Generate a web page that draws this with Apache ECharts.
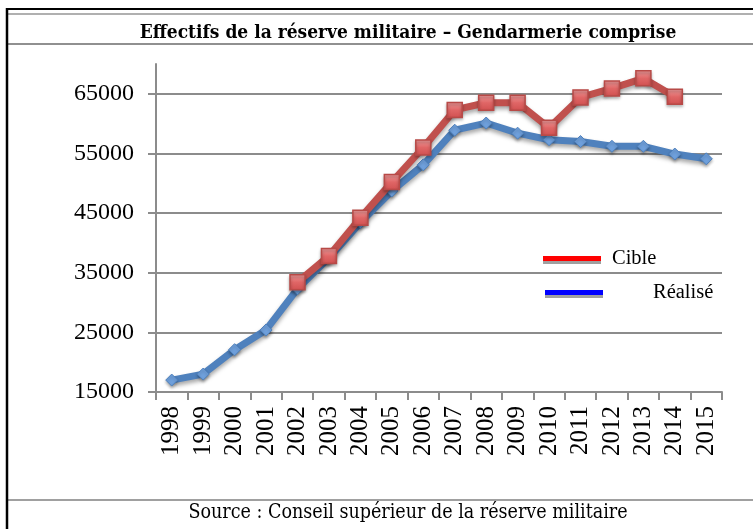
<!DOCTYPE html>
<html><head><meta charset="utf-8">
<script src="https://cdn.jsdelivr.net/npm/echarts@6/dist/echarts.min.js"></script>
<style>html,body{margin:0;padding:0;background:#fff}#c{width:753px;height:529px}</style>
</head><body><div id="c"></div>
<script>
var years = ['1998','1999','2000','2001','2002','2003','2004','2005','2006','2007','2008','2009','2010','2011','2012','2013','2014','2015'];
var cible = [null,null,null,null,33400,37800,44200,50200,56000,62300,63500,63500,59300,64400,65900,67600,64500,null];
var realise = [17000,18000,22100,25400,32300,37500,43400,48700,53100,58900,60100,58400,57300,57000,56200,56200,54900,54100];
var yTickLabels = ['15000','20000','25000','30000','35000','40000','45000','50000','55000','60000','65000','70000'];
var titleText = 'Effectifs de la réserve militaire – Gendarmerie comprise';
var sourceText = 'Source : Conseil supérieur de la réserve militaire';

var chart = echarts.init(document.getElementById('c'), null, {renderer:'canvas'});
var serif = '"Liberation Serif", "DejaVu Serif", serif';
var cond = '"DejaVu Serif Condensed", "Liberation Serif", serif';
chart.setOption({
  animation:false,
  backgroundColor:'#fff',
  title:[{text:titleText, left:403, top:19, textAlign:'center',
          textStyle:{fontFamily:cond, fontWeight:'bold', fontSize:19, color:'#000'}},
         {text:sourceText, left:403, top:498, textAlign:'center',
          textStyle:{fontFamily:cond, fontWeight:'normal', fontSize:19.5, color:'#000'}}],
  graphic:[
    {type:'line', shape:{x1:6,y1:9,x2:753,y2:9}, style:{stroke:'#000', lineWidth:2}},
    {type:'line', shape:{x1:8,y1:14,x2:753,y2:14}, style:{stroke:'#b0b0b0', lineWidth:2}},
    {type:'line', shape:{x1:6,y1:44,x2:753,y2:44}, style:{stroke:'#909090', lineWidth:2}},
    {type:'line', shape:{x1:6,y1:500,x2:753,y2:500}, style:{stroke:'#a0a0a0', lineWidth:2}},
    {type:'line', shape:{x1:7,y1:8,x2:7,y2:529}, style:{stroke:'#000', lineWidth:2.5}}
  ],
  legend:[
    {data:[{name:'Cible', icon:'rect', itemStyle:{color:'#ff0000', borderWidth:0, shadowColor:'#a0a0a0', shadowOffsetY:3, shadowBlur:0}}],
     left:538, top:243, itemWidth:58, itemHeight:5, selectedMode:false,
     textStyle:{fontFamily:serif, fontSize:20.5, color:'#000', padding:[0,0,0,6]}},
    {data:[{name:'Réalisé', icon:'rect', itemStyle:{color:'#0000ff', borderWidth:0, shadowColor:'#a0a0a0', shadowOffsetY:3, shadowBlur:0}}],
     left:540, top:277, itemWidth:58, itemHeight:5, selectedMode:false,
     textStyle:{fontFamily:serif, fontSize:20.5, color:'#000', padding:[0,0,0,45]}}
  ],
  grid:{left:156, right:31, top:64, bottom:137, containLabel:false},
  xAxis:{type:'category', data:years, boundaryGap:true,
    axisLine:{lineStyle:{color:'#8c8c8c', width:2}},
    axisTick:{show:true, inside:false, length:8, alignWithLabel:false, lineStyle:{color:'#8c8c8c', width:2}},
    axisLabel:{rotate:90, margin:14, interval:0, fontFamily:serif, fontSize:25, color:'#000'},
    splitLine:{show:false}},
  yAxis:[
    {type:'value', min:15000, max:70000, show:false, splitLine:{show:false}},
    {type:'category', data:yTickLabels, boundaryGap:false, position:'left',
     axisLine:{show:true, lineStyle:{color:'#8c8c8c', width:2}},
     axisTick:{show:true, interval:1, length:8, lineStyle:{color:'#8c8c8c', width:2}},
     axisLabel:{interval:1, margin:22, fontFamily:serif, fontSize:24, color:'#000'},
     splitLine:{show:true, interval:1, lineStyle:{color:'#8c8c8c', width:2}}}
  ],
  series:[
    {name:'Réalisé', type:'line', yAxisIndex:0, data:realise, symbol:'diamond', symbolSize:12,
     lineStyle:{color:'#4f81bd', width:7, shadowColor:'rgba(0,0,0,0.35)', shadowBlur:4, shadowOffsetY:3},
     itemStyle:{color:'#6fa0dc', borderColor:'#4f81bd', borderWidth:1, shadowColor:'rgba(0,0,0,0.3)', shadowBlur:3, shadowOffsetY:2},
     z:2},
    {name:'Cible', type:'line', yAxisIndex:0, data:cible, symbol:'rect', symbolSize:15, connectNulls:false,
     lineStyle:{color:'#c0504d', width:7, shadowColor:'rgba(0,0,0,0.35)', shadowBlur:4, shadowOffsetY:3},
     itemStyle:{color:new echarts.graphic.LinearGradient(0,0,0,1,[{offset:0,color:'#f4a0a0'},{offset:0.5,color:'#e06666'},{offset:1,color:'#d05050'}]),
                borderColor:'#b84a47', borderWidth:1.5, shadowColor:'rgba(0,0,0,0.3)', shadowBlur:3, shadowOffsetY:2},
     z:3}
  ]
});
</script></body></html>
